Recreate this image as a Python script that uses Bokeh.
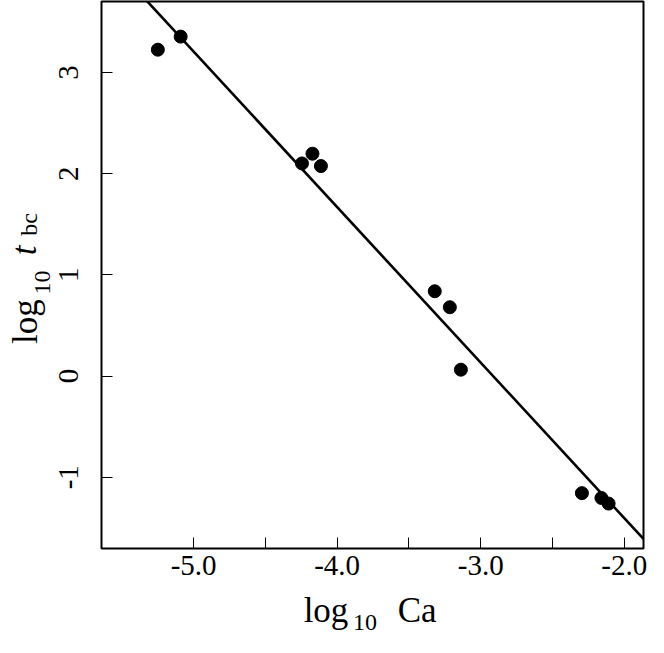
from bokeh.plotting import figure
from bokeh.models import Range1d, FixedTicker, LinearAxis, ColumnDataSource
from bokeh.embed import file_html
from bokeh.resources import INLINE

# data
log_ca = [-5.249, -5.090, -4.245, -4.172, -4.113, -3.320, -3.215, -3.138, -2.295, -2.159, -2.109]
log_tbc = [3.225, 3.354, 2.101, 2.197, 2.075, 0.838, 0.680, 0.063, -1.157, -1.205, -1.260]

# fitted line end points
fit_x = [-5.64, -1.866]
fit_y = [4.19, -1.61]

x_ticks = [-5.0, -4.5, -4.0, -3.5, -3.0, -2.5, -2.0]
x_tick_labels = ["-5.0", "", "-4.0", "", "-3.0", "", "-2.0"]
y_ticks = [3, 2, 1, 0, -1]
y_tick_labels = ["3", "2", "1", "0", "-1"]

FONT = "Liberation Serif"

# layout
W, H = 648, 637
ML, MR, MT, MB = 101, 5, 1, 89
X0, X1 = -5.6415, -1.866
Y0, Y1 = -1.704, 3.701
FL, FR, FT, FB = ML, W - MR, MT, H - MB


def px_to_x(px):
    return X0 + (px - FL) * (X1 - X0) / (FR - FL)


def py_to_y(py):
    return Y1 - (py - FT) * (Y1 - Y0) / (FB - FT)


p = figure(width=W, height=H, output_backend="svg", toolbar_location=None,
           x_range=Range1d(X0, X1), y_range=Range1d(Y0, Y1),
           min_border_left=ML, min_border_right=MR, min_border_top=MT, min_border_bottom=MB)

p.background_fill_color = "white"
p.border_fill_color = "white"
p.outline_line_color = "black"
p.outline_line_width = 2
p.xgrid.visible = False
p.ygrid.visible = False

p.line(fit_x, fit_y, line_color="black", line_width=2.6)
src = ColumnDataSource(dict(x=log_ca, y=log_tbc))
p.scatter("x", "y", source=src, size=13, fill_color="black", line_color="black")

for ax in (p.xaxis[0], p.yaxis[0]):
    ax.axis_line_color = None
    ax.major_tick_in = 11
    ax.major_tick_out = 0
    ax.major_tick_line_color = "black"
    ax.major_tick_line_width = 1
    ax.minor_tick_line_color = None
    ax.major_label_text_font = FONT
    ax.major_label_text_font_size = "29px"
    ax.major_label_text_color = "black"
    ax.axis_label = None

p.xaxis[0].ticker = FixedTicker(ticks=x_ticks)
p.xaxis[0].major_label_overrides = {t: l for t, l in zip(x_ticks, x_tick_labels)}
p.xaxis[0].major_label_standoff = 7

p.yaxis[0].ticker = FixedTicker(ticks=y_ticks)
p.yaxis[0].major_label_overrides = {t: l for t, l in zip(y_ticks, y_tick_labels)}
p.yaxis[0].major_label_orientation = "vertical"
p.yaxis[0].major_label_standoff = 23


def text_axis(side, positions, texts, size, standoff, style="normal"):
    ax = LinearAxis(ticker=FixedTicker(ticks=positions),
                    major_label_overrides={t: s for t, s in zip(positions, texts)},
                    axis_line_color=None, major_tick_line_color=None,
                    minor_tick_line_color=None, major_tick_in=0, major_tick_out=0,
                    major_label_standoff=standoff, major_label_text_font=FONT,
                    major_label_text_font_size=size, major_label_text_font_style=style,
                    major_label_text_color="black", axis_label=None)
    if side == "left":
        ax.major_label_orientation = "vertical"
    p.add_layout(ax, side)


# x axis title: log_10 Ca  (pieces placed along the axis)
text_axis("below", [px_to_x(325.5), px_to_x(416.7)], ["log", "Ca"], "35px", 13)
text_axis("below", [px_to_x(364.5)], ["10"], "24px", -18)

# y axis title: log_10 t_bc (rotated)
text_axis("left", [py_to_y(282.1)], ["10"], "24px", 6)
text_axis("left", [py_to_y(224.0)], ["bc"], "24px", -9)
text_axis("left", [py_to_y(321.1)], ["log"], "35px", -33)
text_axis("left", [py_to_y(249.9)], ["t"], "35px", -41, "italic")

open("out.html", "w").write(file_html(p, INLINE))
